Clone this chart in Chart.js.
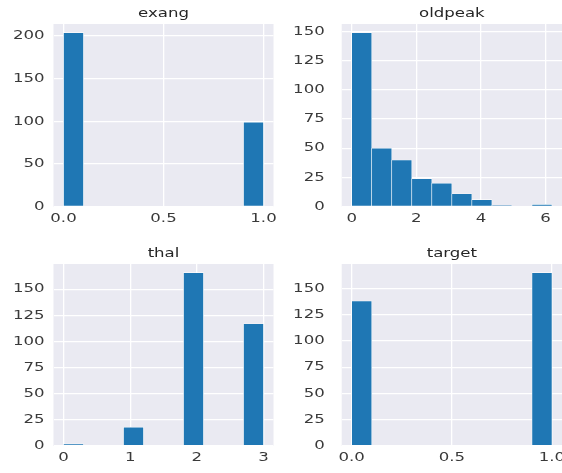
<!DOCTYPE html>
<html>
<head>
<meta charset="utf-8">
<script src="https://cdn.jsdelivr.net/npm/chart.js@4/dist/chart.umd.min.js"></script>
<style>
  html, body { margin: 0; padding: 0; background: #ffffff; overflow: hidden; }
  #wrap { position: relative; width: 562px; height: 473px; }
  #wrap canvas { position: absolute; left: 0; top: 0; }
</style>
</head>
<body>
<div id="wrap">
  <canvas id="exang" width="562" height="473"></canvas>
  <canvas id="oldpeak" width="562" height="473"></canvas>
  <canvas id="thal" width="562" height="473"></canvas>
  <canvas id="target" width="562" height="473"></canvas>
</div>
<script>
// Histogram counts per column, 10 equal-width bins over [min, max]
const exangRange = [0, 1];
const exangCounts = [204, 0, 0, 0, 0, 0, 0, 0, 0, 99];
const exangXTicks = [0, 0.5, 1];
const exangYTicks = [0, 50, 100, 150, 200];

const oldpeakRange = [0, 6.2];
const oldpeakCounts = [149, 50, 40, 24, 20, 11, 6, 1, 0, 2];
const oldpeakXTicks = [0, 2, 4, 6];
const oldpeakYTicks = [0, 25, 50, 75, 100, 125, 150];

const thalRange = [0, 3];
const thalCounts = [2, 0, 0, 18, 0, 0, 166, 0, 0, 117];
const thalXTicks = [0, 1, 2, 3];
const thalYTicks = [0, 25, 50, 75, 100, 125, 150];

const targetRange = [0, 1];
const targetCounts = [138, 0, 0, 0, 0, 0, 0, 0, 0, 165];
const targetXTicks = [0, 0.5, 1];
const targetYTicks = [0, 25, 50, 75, 100, 125, 150];

Chart.defaults.font.family = "'DejaVu Sans', sans-serif";

const TEXT = '#3a3a3a';
const BAR = '#1f77b4';
const PANEL_BG = '#eaeaf2';
const TEXT_WIDEN = 1.38;   // horizontal stretch of all lettering

// grey axes background behind the grid
const panelBackground = {
  id: 'panelBackground',
  beforeDraw(chart) {
    const { ctx, chartArea: a } = chart;
    ctx.save();
    ctx.fillStyle = PANEL_BG;
    ctx.fillRect(a.left, a.top, a.right - a.left, a.bottom - a.top);
    ctx.restore();
  }
};

// draw text widened around its anchor point (alignment is preserved)
function widenText(ctx, sx) {
  const fill = ctx.fillText.bind(ctx);
  ctx.fillText = function (text, x, y, maxWidth) {
    this.save();
    this.translate(x, y);
    this.scale(sx, 1);
    if (maxWidth === undefined) fill(text, 0, 0);
    else fill(text, 0, 0, maxWidth / sx);
    this.restore();
  };
}

// subplot frames (axes box in page pixels)
const frames = {
  exang:   { left: 53.5,  right: 273.5, top: 24,  bottom: 206.7, yPad: 9 },
  oldpeak: { left: 341.7, right: 562,   top: 24,  bottom: 206.7, yPad: 17 },
  thal:    { left: 53.5,  right: 273.5, top: 264, bottom: 446,   yPad: 9 },
  target:  { left: 341.7, right: 562,   top: 264, bottom: 446,   yPad: 17 }
};

function histogram(id, range, counts, xTicks, yTicks, decimals) {
  const [lo, hi] = range;
  const n = counts.length;
  const w = (hi - lo) / n;
  const points = counts.map((c, i) => ({ x: lo + (i + 0.5) * w, y: c }));
  const margin = (hi - lo) * 0.05;
  const yMax = Math.max(...counts) * 1.05;
  const f = frames[id];
  const W = 562, H = 473;
  const titleSize = 12, titleLH = 1.2, titleGap = 3;

  const canvas = document.getElementById(id);
  widenText(canvas.getContext('2d'), TEXT_WIDEN);

  new Chart(canvas, {
    type: 'bar',
    data: {
      datasets: [{
        data: points,
        backgroundColor: BAR,
        borderColor: '#ffffff',
        borderWidth: 0.6,
        borderSkipped: false,
        barPercentage: 1,
        categoryPercentage: 1
      }]
    },
    options: {
      responsive: false,
      animation: false,
      events: [],
      layout: {
        padding: {
          left: 0,
          right: W - f.right,
          top: f.top - titleSize * titleLH - titleGap,
          bottom: 0
        }
      },
      plugins: {
        legend: { display: false },
        tooltip: { enabled: false },
        title: {
          display: true,
          fullSize: false,
          text: id,
          color: '#262626',
          font: { size: titleSize, weight: 'normal', lineHeight: titleLH },
          padding: { top: 0, bottom: titleGap }
        }
      },
      scales: {
        x: {
          type: 'linear',
          min: lo - margin,
          max: hi + margin,
          offset: false,
          border: { display: false },
          grid: { color: '#ffffff', lineWidth: 1.3, drawTicks: false, offset: false },
          ticks: {
            color: TEXT,
            font: { size: 12 },
            padding: 5,
            maxRotation: 0,
            autoSkip: false,
            callback: v => Number(v).toFixed(decimals)
          },
          afterBuildTicks: s => { s.ticks = xTicks.map(v => ({ value: v })); },
          afterFit: s => { s.height = H - f.bottom; s.paddingLeft = 0; s.paddingRight = 0; }
        },
        y: {
          type: 'linear',
          min: 0,
          max: yMax,
          border: { display: false },
          grid: { color: '#ffffff', lineWidth: 1.3, drawTicks: false },
          ticks: {
            color: TEXT,
            font: { size: 12 },
            padding: f.yPad,
            autoSkip: false
          },
          afterBuildTicks: s => { s.ticks = yTicks.map(v => ({ value: v })); },
          afterFit: s => { s.width = f.left; s.paddingTop = 0; s.paddingBottom = 0; }
        }
      }
    },
    plugins: [panelBackground]
  });
}

histogram('exang', exangRange, exangCounts, exangXTicks, exangYTicks, 1);
histogram('oldpeak', oldpeakRange, oldpeakCounts, oldpeakXTicks, oldpeakYTicks, 0);
histogram('thal', thalRange, thalCounts, thalXTicks, thalYTicks, 0);
histogram('target', targetRange, targetCounts, targetXTicks, targetYTicks, 1);
</script>
</body>
</html>
